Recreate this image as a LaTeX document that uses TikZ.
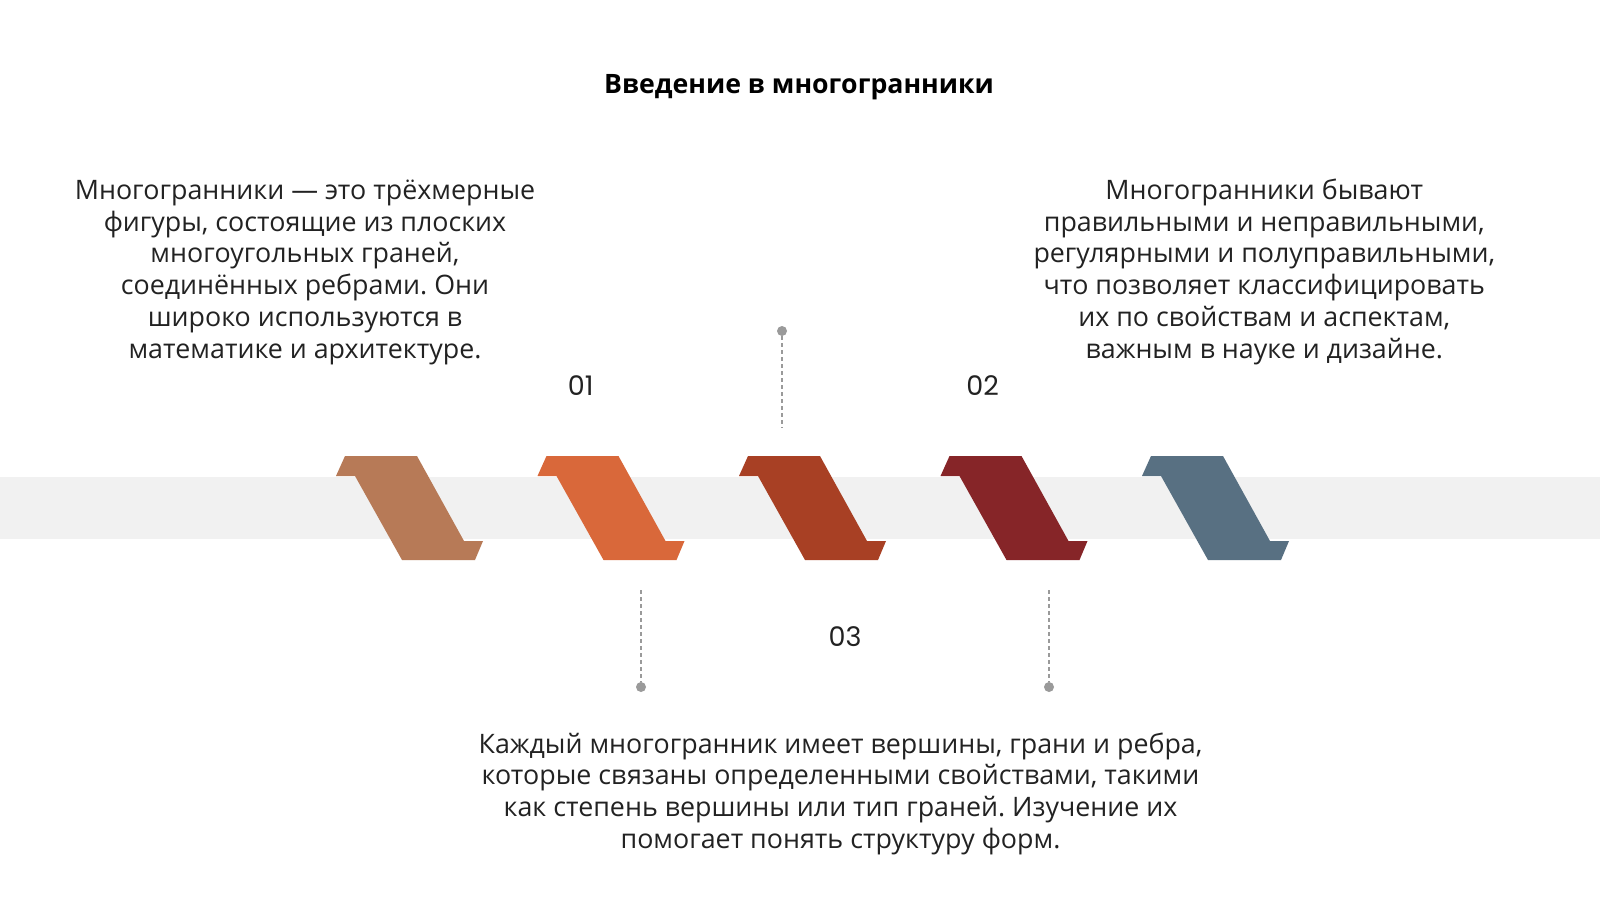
\documentclass[tikz,border=0pt]{standalone}
\usepackage{fontspec}
\setmainfont{Open Sans}
\newfontfamily\numfont{Poppins}
\frenchspacing
\definecolor{txt}{HTML}{222222}
\definecolor{band}{HTML}{F1F1F1}
\definecolor{cA}{HTML}{B77A57}
\definecolor{cB}{HTML}{D9683A}
\definecolor{cC}{HTML}{A84024}
\definecolor{cD}{HTML}{862528}
\definecolor{cE}{HTML}{587082}
\definecolor{dotg}{HTML}{9A9A9A}
\begin{document}
\frenchspacing
\begin{tikzpicture}[x=1pt,y=-1pt,
  body/.style={align=center,inner sep=0pt,text=txt,font=\fontsize{26.8}{31.8}\selectfont},
  numlbl/.style={inner sep=0pt,text=txt,font=\numfont\fontsize{27}{30}\selectfont},
  titlelbl/.style={inner sep=0pt,text=black,font=\bfseries\fontsize{26.7}{30}\selectfont},
  dotnode/.style={circle,fill=dotg,inner sep=0pt,minimum size=10pt},
  dashline/.style={draw=dotg,line width=1.5pt,dash pattern=on 4pt off 3pt},
  pics/zstep/.style={code={
    \fill[#1] (0,0) -- (-9,20) -- (10,20) -- (57,104) -- (130,104) -- (138,85)
      -- (119,85) -- (72,0) -- cycle;}}
]
\useasboundingbox (0,0) rectangle (1600,900);
\fill[white] (0,0) rectangle (1600,900);
% band
\fill[band] (0,476.5) rectangle (1600,538.5);
% steps
\pic at (345,456) {zstep=cA};
\pic at (546.5,456) {zstep=cB};
\pic at (748,456) {zstep=cC};
\pic at (949.5,456) {zstep=cD};
\pic at (1151,456) {zstep=cE};
% title
\node[titlelbl] (title) at (799,87.5) {Введение в многогранники};
% numbers
\node[numlbl] (n1) at (580.6,385.7) {01};
\node[numlbl] (n2) at (982.7,385.7) {02};
\node[numlbl] (n3) at (845,636.7) {03};
% connectors
\node[dotnode] (d1) at (782,331) {};
\coordinate (e1) at (782,428);
\draw[dashline] (d1) -- (e1);
\node[dotnode] (d2) at (641,687) {};
\coordinate (e2) at (641,590);
\draw[dashline] (e2) -- (d2);
\node[dotnode] (d3) at (1049,687) {};
\coordinate (e3) at (1049,590);
\draw[dashline] (e3) -- (d3);
% texts (anchor=base sits on the last line's baseline)
\node[body,anchor=base] (t1) at (305,358.3) {Многогранники — это трёхмерные\\фигуры, состоящие из плоских\\многоугольных граней,\\соединённых ребрами. Они\\широко используются в\\математике и архитектуре.};
\node[body,anchor=base] (t2) at (1264.3,358.3) {Многогранники бывают\\правильными и неправильными,\\регулярными и полуправильными,\\что позволяет классифицировать\\их по свойствам и аспектам,\\важным в науке и дизайне.};
\node[body,anchor=base] (t3) at (840.5,848.4) {Каждый многогранник имеет вершины, грани и ребра,\\которые связаны определенными свойствами, такими\\как степень вершины или тип граней. Изучение их\\помогает понять структуру форм.};
\end{tikzpicture}
\end{document}
